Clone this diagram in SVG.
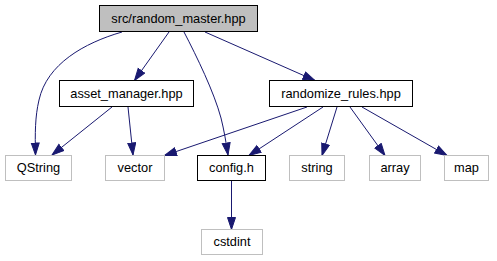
<svg xmlns="http://www.w3.org/2000/svg" width="497" height="261" viewBox="0 0 497 261">
  <defs>
    <marker id="arrow" markerUnits="userSpaceOnUse" markerWidth="14" markerHeight="10" refX="12.5" refY="4.5" orient="auto">
      <path d="M0.5,0.5 L12.5,4.5 L0.5,8.5 z" fill="#191970" stroke="#191970" stroke-width="1"/>
    </marker>
  </defs>
  <style>
    .node rect { stroke-width: 1; }
    .main rect { fill: #bfbfbf; stroke: #000000; }
    .local rect { fill: #ffffff; stroke: #000000; }
    .sys rect { fill: #ffffff; stroke: #bfbfbf; }
    .node text { font-family: "Liberation Sans", Arial, sans-serif; font-size: 12.8px; fill: #000000; text-anchor: middle; }
    .edges path { fill: none; stroke: #191970; stroke-width: 1; marker-end: url(#arrow); }
  </style>
  <rect width="497" height="261" fill="#ffffff"/>

  <!-- include edges -->
  <g id="edges" class="edges">
    <path d="M122,32 C84,43 47,64 39,100 C35,117 35,133 35.5,155"/>
    <path d="M169,32 L134.5,80.5"/>
    <path d="M184,32 C197,57 214,92 221,118 C224,130 226,142 228,155"/>
    <path d="M205,32 L315,80.5"/>
    <path d="M112,107 L52,155"/>
    <path d="M128,107 L133,155"/>
    <path d="M307,107 L164.5,155.5"/>
    <path d="M323,107 L249,155.5"/>
    <path d="M337,107 L322,155.5"/>
    <path d="M350,107 L385,155.5"/>
    <path d="M362,107 L447,155.5"/>
    <path d="M231.5,181 L231.5,229.5"/>
  </g>

  <g id="node-random-master" class="node main">
    <rect x="99.5" y="5.5" width="158" height="26"/>
    <text x="178.5" y="22.5">src/random_master.hpp</text>
  </g>
  <g id="node-asset-manager" class="node local">
    <rect x="59.5" y="80.5" width="134" height="26"/>
    <text x="126.5" y="97.5">asset_manager.hpp</text>
  </g>
  <g id="node-randomize-rules" class="node local">
    <rect x="269.5" y="80.5" width="143" height="26"/>
    <text x="341" y="97.5">randomize_rules.hpp</text>
  </g>
  <g id="node-qstring" class="node sys">
    <rect x="5.5" y="155.5" width="66" height="25"/>
    <text x="38.5" y="172">QString</text>
  </g>
  <g id="node-vector" class="node sys">
    <rect x="105.5" y="155.5" width="59" height="25"/>
    <text x="135" y="172">vector</text>
  </g>
  <g id="node-config" class="node local">
    <rect x="197.5" y="155.5" width="68" height="25"/>
    <text x="231.5" y="172">config.h</text>
  </g>
  <g id="node-string" class="node sys">
    <rect x="289.5" y="155.5" width="55" height="25"/>
    <text x="317" y="172">string</text>
  </g>
  <g id="node-array" class="node sys">
    <rect x="369.5" y="155.5" width="51" height="25"/>
    <text x="395" y="172">array</text>
  </g>
  <g id="node-map" class="node sys">
    <rect x="444.5" y="155.5" width="44" height="25"/>
    <text x="466.5" y="172">map</text>
  </g>
  <g id="node-cstdint" class="node sys">
    <rect x="201.5" y="229.5" width="61" height="25"/>
    <text x="232" y="246">cstdint</text>
  </g>
</svg>
